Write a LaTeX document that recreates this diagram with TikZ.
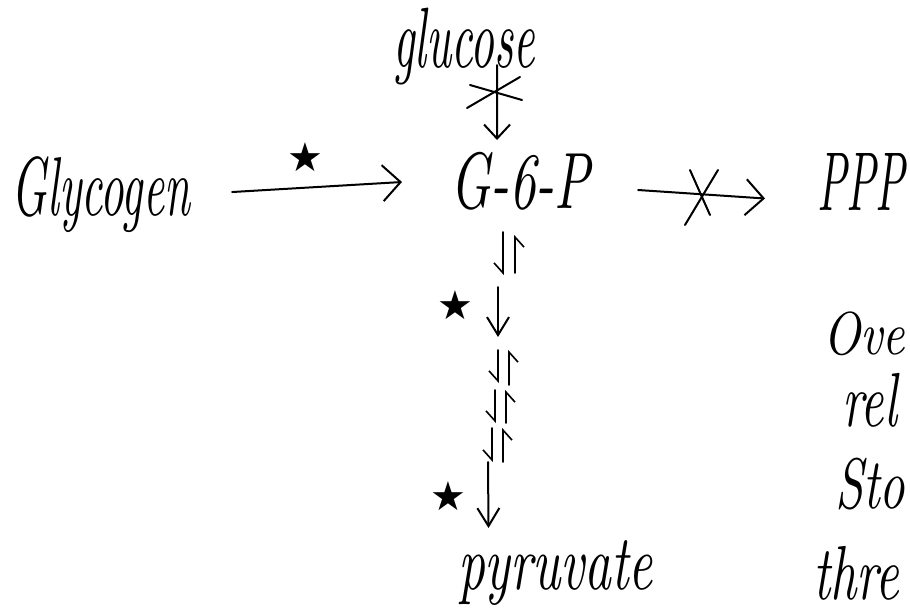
\documentclass[tikz,border=0pt]{standalone}
\usepackage{fontspec}
\usepackage{graphicx}
\newfontfamily\djv{DejaVu Sans}
\usetikzlibrary{arrows.meta,calc}
\newcommand\fitword[3]{\resizebox*{#1pt}{#2pt}{\itshape #3}}
\begin{document}
\begin{tikzpicture}[x=1pt,y=-1pt,
  word/.style={inner sep=0pt,outer sep=0pt,anchor=north west},
  ink/.style={line width=2pt,line cap=round,line join=round},
  bigarr/.style={ink,-{Straight Barb[length=18pt,width=36pt,line width=2pt]}},
  downarr/.style={ink,-{Straight Barb[length=18pt,width=22pt,line width=2pt]}},
  eqarr/.style={ink,line width=1.6pt,-{Straight Barb[harpoon,swap,length=10pt,width=18pt,line width=1.6pt]}},
  starmark/.style={inner sep=0pt,font=\djv\fontsize{40pt}{40pt}\selectfont}]
\useasboundingbox (0,0) rectangle (910,613);
\fill[white] (0,0) rectangle (910,613);

% words
\node[word] (glucose) at (393,8) {\fitword{142}{77}{glucose}};
\node[word] (glycogen) at (12,157) {\fitword{178}{76}{Glycogen}};
\node[word] (g6p) at (450,152) {\fitword{140}{58}{G-6-P}};
\node[word] (ppp) at (817,153) {\fitword{88}{57}{PPP}};
\node[word] (pyruvate) at (458,540) {\fitword{195}{65}{pyruvate}};
\node[word] (ove) at (823,312) {\fitword{82}{44}{Ove}};
\node[word] (rel) at (842,373) {\fitword{55}{54}{rel}};
\node[word] (sto) at (835,458) {\fitword{70}{52}{Sto}};
\node[word] (thre) at (813,546) {\fitword{86}{54}{thre}};

% stars
\node[starmark] (s1) at (305,157) {★};
\node[starmark] (s2) at (455,305) {★};
\node[starmark] (s3) at (448,496) {★};

% Glycogen -> G-6-P
\draw[bigarr] ($(glycogen.east)+(42,-3)$) -- ($(g6p.west)+(-48,1)$);
% G-6-P -> PPP (blocked)
\draw[bigarr] ($(g6p.east)+(48,9)$) -- ($(ppp.west)+(-52,17)$);
\draw[ink] (690,170) -- (710,215);
\draw[ink] (685,225) -- (718,170);
% glucose -> G-6-P (blocked)
\draw[ink,-{Straight Barb[length=14pt,width=26pt,line width=2pt]}] ($(glucose.south)+(33,-20)$) -- ($(g6p.north)+(-23,-12)$);
\draw[ink] (470,85) -- (522,100);
\draw[ink] (467,108) -- (520,77);

% glycolysis column
\coordinate (a1) at (503,232); \coordinate (a2) at (503,275);
\coordinate (b1) at (515,273); \coordinate (b2) at (515,235);
\draw[eqarr] (a1) -- (a2);
\draw[eqarr] (b1) -- (b2);
\coordinate (d1a) at (498,287); \coordinate (d1b) at (498,337);
\draw[downarr] (d1a) -- (d1b);
\coordinate (e1) at (498,350); \coordinate (e2) at (498,383);
\coordinate (f1) at (509,385); \coordinate (f2) at (509,350);
\draw[eqarr] (e1) -- (e2);
\draw[eqarr] (f1) -- (f2);
\coordinate (g1) at (495,390); \coordinate (g2) at (495,423);
\coordinate (h1) at (506,423); \coordinate (h2) at (506,390);
\draw[eqarr] (g1) -- (g2);
\draw[eqarr] (h1) -- (h2);
\coordinate (i1) at (492,428); \coordinate (i2) at (492,462);
\coordinate (j1) at (503,462); \coordinate (j2) at (503,428);
\draw[eqarr] (i1) -- (i2);
\draw[eqarr] (j1) -- (j2);
\coordinate (d2a) at (488,462);
\draw[downarr] (d2a) -- ($(pyruvate.north)+(-67,-12)$);
\end{tikzpicture}
\end{document}
